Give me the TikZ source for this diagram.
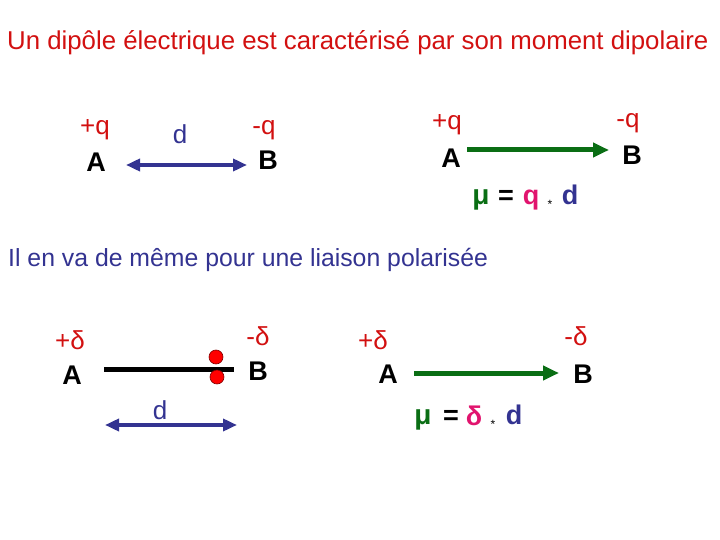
\documentclass[tikz,border=0pt]{standalone}
\usepackage{fontspec}
\setmainfont{Liberation Sans}
\usetikzlibrary{arrows.meta}
\definecolor{tred}{RGB}{210,16,16}
\definecolor{tblue}{RGB}{51,51,145}
\definecolor{tgreen}{RGB}{10,110,20}
\definecolor{tmag}{RGB}{225,20,110}
\tikzset{
  lbl/.style={inner sep=0pt, font=\fontsize{#1}{#1}\selectfont},
  blbl/.style={inner sep=0pt, font=\fontsize{#1}{#1}\selectfont\bfseries},
  charge/.style={lbl=26, text=tred},
  atom/.style={blbl=27, text=black},
  dist/.style={lbl=26, text=tblue},
  darrow/.style={tblue, line width=4pt, {Triangle[width=12pt,length=14pt]}-{Triangle[width=12pt,length=14pt]}},
  garrow/.style={tgreen, line width=5pt, -{Triangle[width=14pt,length=16pt]}},
  bond/.style={black, line width=5pt},
  dot/.style={circle, fill=red, draw=red!50!black, line width=0.6pt, minimum size=14pt, inner sep=0pt},
}
\begin{document}
\begin{tikzpicture}[x=1pt,y=-1pt]
\useasboundingbox (0,0) rectangle (720,540);
% title
\node[lbl=25.8, text=tred, anchor=west] (title) at (7,43) {Un dipôle électrique est caractérisé par son moment dipolaire};
% top left
\node[charge] (q1) at (95,130) {+q};
\node[atom] (A1) at (96,162) {A};
\node[dist] (d1) at (180,134) {d};
\node[charge] (q2) at (264,130) {-q};
\node[atom] (B1) at (268,160) {B};
\coordinate (l1) at (126,165);
\coordinate (r1) at (247,165);
\draw[darrow] (l1) -- (r1);
% top right
\node[charge] (q3) at (447,125) {+q};
\node[atom] (A2) at (451,158) {A};
\node[charge] (q4) at (628,123) {-q};
\node[atom] (B2) at (632,155) {B};
\coordinate (l2) at (467,150);
\coordinate (r2) at (609,150);
\draw[garrow] (l2) -- (r2);
\node[blbl=28, text=tgreen] (mu1) at (481,200) {μ};
\node[blbl=27] (eq1) at (506,197) {=};
\node[blbl=27, text=tmag] (qq) at (531,200) {q};
\node[lbl=12] (st1) at (550,204) {*};
\node[blbl=27, text=tblue] (dd1) at (570,195) {d};
% subtitle
\node[lbl=24.8, text=tblue, anchor=west] (sub) at (8,260) {Il en va de même pour une liaison polarisée};
% bottom left
\node[charge] (dp1) at (70,340) {+δ};
\node[atom] (A3) at (72,375) {A};
\node[charge] (dm1) at (258,336) {-δ};
\node[atom] (B3) at (258,371) {B};
\coordinate (bl) at (104,369);
\coordinate (br) at (234,369);
\draw[bond] (bl) -- (br);
\node[dot] (e1) at (216,357) {};
\node[dot] (e2) at (217,377) {};
\node[dist] (d2) at (160,410) {d};
\coordinate (l3) at (105,425);
\coordinate (r3) at (237,425);
\draw[darrow] (l3) -- (r3);
% bottom right
\node[charge] (dp2) at (373,340) {+δ};
\node[atom] (A4) at (388,374) {A};
\node[charge] (dm2) at (576,336) {-δ};
\node[atom] (B4) at (583,374) {B};
\coordinate (l4) at (414,373);
\coordinate (r4) at (559,373);
\draw[garrow] (l4) -- (r4);
\node[blbl=28, text=tgreen] (mu2) at (423,420) {μ};
\node[blbl=27] (eq2) at (451,417) {=};
\node[blbl=27, text=tmag] (de) at (474,416) {δ};
\node[lbl=12] (st2) at (493,424) {*};
\node[blbl=27, text=tblue] (dd2) at (514,415) {d};
\end{tikzpicture}
\end{document}
